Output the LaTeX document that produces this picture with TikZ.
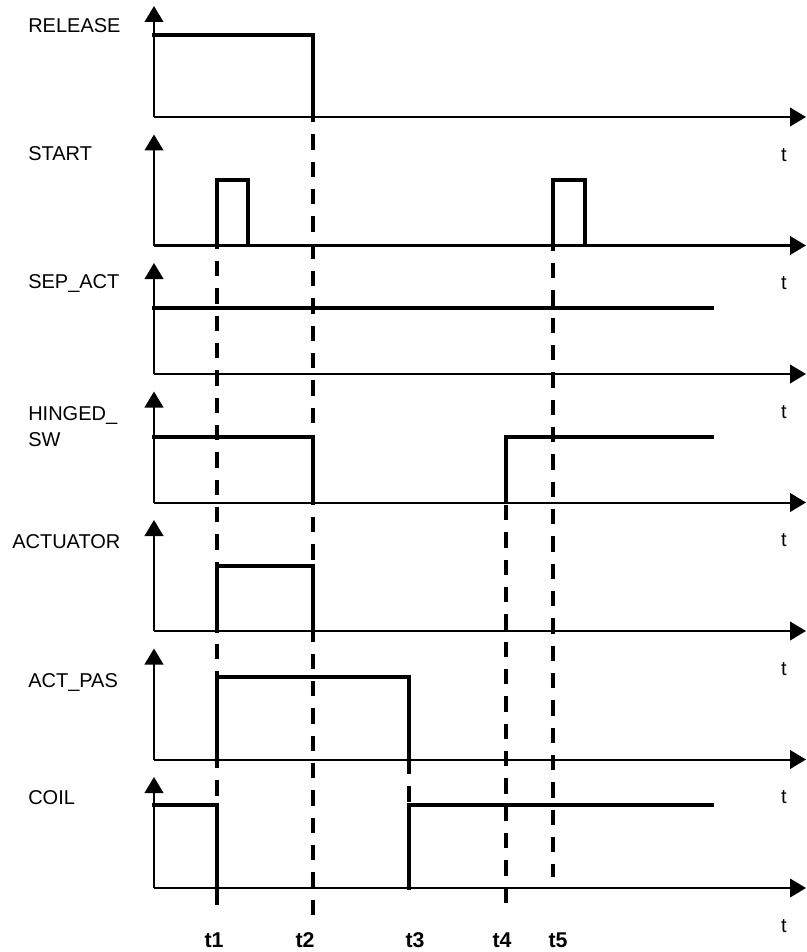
\documentclass[tikz,border=0pt]{standalone}
\usepackage{fontspec}
\setmainfont{Liberation Sans}
\usetikzlibrary{arrows.meta, positioning}

\begin{document}
\begin{tikzpicture}[
    x=0.75pt, y=-0.75pt,
    axis/.style={-{Triangle[length=12pt, width=14pt]}, line width=1.5pt},
    signal/.style={line width=2.4pt, line cap=rect},
    marker/.style={line width=2.4pt, dash pattern=on 11.5pt off 9pt},
    sig/.style={anchor=west, inner sep=0pt, align=left, font=\fontsize{15}{19.5}\selectfont},
    tlabel/.style={inner sep=0pt, font=\fontsize{15}{15}\selectfont},
    tmark/.style={inner sep=0pt, font=\bfseries\fontsize{16}{16}\selectfont}
]

\useasboundingbox (0,0) rectangle (806,952);

% Axes
\foreach \name/\y in {release/117, start/245.5, sep/374, hinged/502.5, actuator/631, actpas/759.5, coil/888} {
    \coordinate (\name-o) at (154,\y);
    \draw[axis] (\name-o) -- ++(0,-111);
    \draw[axis] (\name-o) -- (806,\y);
    \node[tlabel] (\name-t) at (784,\y+38) {t};
}

% Signal names
\node[sig] (release) at (28,26) {RELEASE};
\node[sig] (start) at (28,154) {START};
\node[sig] (sep) at (28,284) {SEP\_ACT};
\node[sig] (hinged) at (28,427) {HINGED\_\\SW};
\node[sig] (actuator) at (12,542) {ACTUATOR};
\node[sig] (actpas) at (28,682) {ACT\_PAS};
\node[sig] (coil) at (28,798) {COIL};

% Time markers (drawn bottom up so a dash crosses the last axis)
\draw[marker] (217,905) -- (217,181);
\draw[marker] (313,915) -- (313,35);
\draw[marker] (409,677) -- (409,888);
\draw[marker] (506,903) -- (506,437);
\draw[marker] (553,181) -- (553,877);

\node[tmark] (t1) at (214,940) {t1};
\node[tmark] (t2) at (305,940) {t2};
\node[tmark] (t3) at (415,940) {t3};
\node[tmark] (t4) at (502,940) {t4};
\node[tmark] (t5) at (558,940) {t5};

% Waveforms
\draw[signal] (154,35) -- (313,35) -- (313,117);
\draw[signal] (217,245.5) -- (217,180) -- (248,180) -- (248,243);
\draw[signal] (553,245.5) -- (553,180) -- (585,180) -- (585,243);
\draw[signal] (154,308) -- (712,308);
\draw[signal] (154,437) -- (313,437) -- (313,502.5);
\draw[signal] (506,502.5) -- (506,437) -- (712,437);
\draw[signal] (217,631) -- (217,566) -- (313,566) -- (313,631);
\draw[signal] (217,759.5) -- (217,677) -- (409,677) -- (409,759.5);
\draw[signal] (154,805) -- (217,805) -- (217,888);
\draw[signal] (409,888) -- (409,805) -- (712,805);

\end{tikzpicture}
\end{document}
